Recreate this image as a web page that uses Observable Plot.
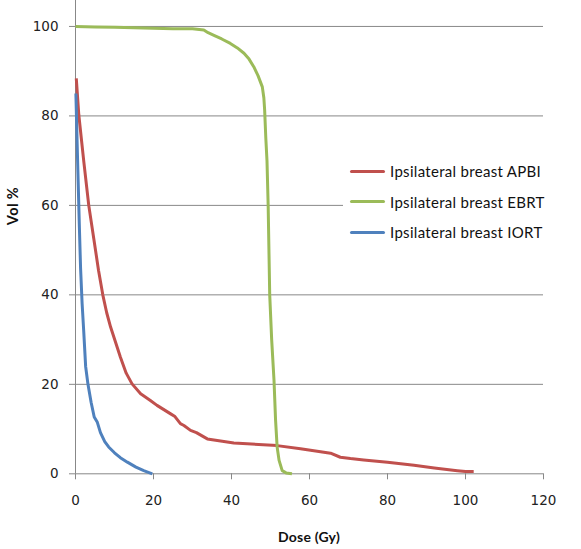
<!DOCTYPE html>
<html><head><meta charset="utf-8">
<script src="https://cdn.jsdelivr.net/npm/d3@7"></script>
<script src="https://cdn.jsdelivr.net/npm/@observablehq/plot@0.6"></script>
<style>
body{margin:0;background:#fff;}
#wrap{position:relative;width:581px;height:549px;overflow:hidden;}
#legend{position:absolute;left:343px;top:156px;width:215px;background:#fff;font-family:Lato,"Open Sans",sans-serif;font-size:15px;letter-spacing:0.3px;color:#111;white-space:nowrap;}
.row{display:flex;align-items:center;height:30.5px;white-space:nowrap;}
.sw{flex:none;width:35px;height:3px;margin-left:7px;margin-right:5px;border-radius:1.5px;}
.ytitle{position:absolute;left:12px;top:206px;transform:translate(-50%,-50%) rotate(-90deg);font-family:Lato,sans-serif;font-weight:bold;font-size:14.5px;letter-spacing:0.4px;white-space:nowrap;color:#111;}
.xtitle{position:absolute;left:309px;top:536px;transform:translate(-50%,-50%);font-family:Lato,sans-serif;font-weight:bold;font-size:14px;letter-spacing:0.2px;white-space:nowrap;color:#111;}
</style></head><body><div id="wrap"></div>
<script>
const seriesNames = ["Ipsilateral breast APBI","Ipsilateral breast EBRT","Ipsilateral breast IORT"];
const seriesColors = ["#C0504D","#9BBB59","#4F81BD"];
const xTicks = [0,20,40,60,80,100,120];
const yTicks = [0,20,40,60,80,100];

const doseAPBI = [0.2,0.85,2.1,3.4,4.7,5.9,7.0,8.0,9,11.5,13,14.5,16.7,19.2,20.9,24.4,25.5,26.9,27.8,29.5,31,33.8,40.6,51.7,57.7,65.4,67.9,70.5,73.9,80,86.8,92,97.9,100,102.1];
const volAPBI  = [88.4,80.2,70,60,52.5,45.5,40,36,32.8,26.1,22.5,20.1,17.9,16.4,15.3,13.4,12.8,11.2,10.8,9.7,9.2,7.8,6.9,6.3,5.6,4.6,3.7,3.4,3.1,2.6,1.9,1.3,0.7,0.5,0.5];

const doseEBRT = [0,5,10,15,20,25,30,32.9,34,35.5,37.5,39.7,41.5,43.2,44.5,45.7,46.8,47.9,48.3,48.5,48.8,49.1,49.4,49.8,50.3,50.9,51.3,51.7,52.2,53,54,55.5];
const volEBRT  = [100,99.9,99.8,99.7,99.6,99.5,99.5,99.2,98.6,98,97.2,96.2,95.2,94,92.7,91,89,86.5,84,81.3,75,70,60,40,30,20.9,12,6,3,0.7,0.2,0];

const doseIORT = [0.1,0.3,0.6,1.0,1.3,1.7,2.1,2.6,3.2,4.0,4.8,5.6,6.4,7.5,8.5,10,11.5,13.3,15.5,17.5,19.7];
const volIORT  = [85,78,68,55,46,38,32,24,20,16,12.7,11.5,9.2,7.2,6,4.7,3.6,2.6,1.5,0.7,0];

const rows = [];
[[doseAPBI,volAPBI],[doseEBRT,volEBRT],[doseIORT,volIORT]].forEach(([d,v],i)=>{
  d.forEach((x,j)=>rows.push({series:seriesNames[i],dose:x,vol:v[j]}));
});

const plot = Plot.plot({
  width:581,height:549,
  marginLeft:75,marginRight:38,marginTop:0,marginBottom:75.7,
  style:{fontFamily:"'DejaVu Sans',Verdana,sans-serif",fontSize:"13.5px",background:"#fff",color:"#222"},
  x:{domain:[0,120]},
  y:{domain:[0,105.8]},
  color:{domain:seriesNames,range:seriesColors},
  marks:[
    Plot.gridY(yTicks.filter(d=>d>0),{stroke:"#888",strokeOpacity:1,strokeWidth:1}),
    Plot.ruleX([0],{stroke:"#888"}),
    Plot.ruleY([0],{stroke:"#888"}),
    Plot.axisY(yTicks,{tickSize:6,tickPadding:11,label:null,stroke:"#888",fill:"#222"}),
    Plot.axisX(xTicks,{tickSize:6,tickPadding:16,label:null,stroke:"#888",fill:"#222"}),
    Plot.line(rows,{x:"dose",y:"vol",z:"series",stroke:"series",strokeWidth:3,strokeLinejoin:"round",strokeLinecap:"butt"})
  ]
});
const wrap = document.getElementById("wrap");
wrap.appendChild(plot);

const leg = document.createElement("div");
leg.id = "legend";
seriesNames.forEach((n,i)=>{
  const r = document.createElement("div"); r.className="row";
  const s = document.createElement("div"); s.className="sw"; s.style.background=seriesColors[i];
  const t = document.createElement("span"); t.textContent=n;
  r.appendChild(s); r.appendChild(t); leg.appendChild(r);
});
wrap.appendChild(leg);

const yt = document.createElement("div"); yt.className="ytitle"; yt.textContent="Vol %"; wrap.appendChild(yt);
const xt = document.createElement("div"); xt.className="xtitle"; xt.textContent="Dose (Gy)"; wrap.appendChild(xt);
</script>
</body></html>
